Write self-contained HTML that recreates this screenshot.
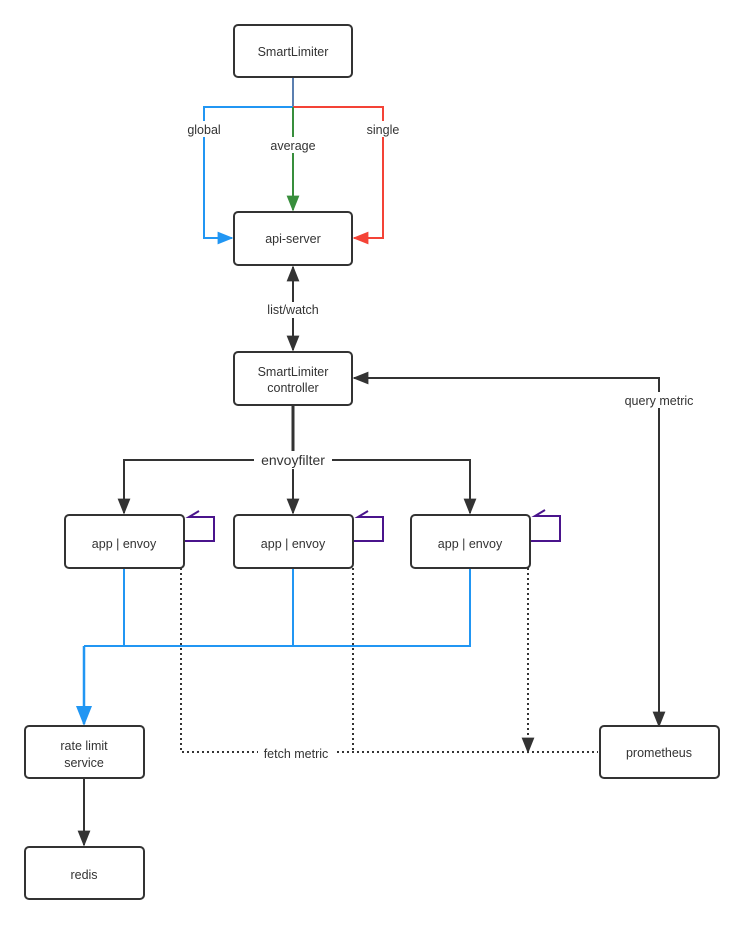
<!DOCTYPE html>
<html><head><style>body{margin:0;background:#fff}text{font-family:"Liberation Sans",sans-serif;font-size:12.5px;fill:#333;text-anchor:middle}</style></head>
<body>
<svg width="744" height="924" viewBox="0 0 744 924" xmlns="http://www.w3.org/2000/svg">
<defs>
<marker id="ak" viewBox="0 0 10 10" refX="9" refY="5" markerWidth="8" markerHeight="8" orient="auto-start-reverse"><path d="M0,1 L10,5 L0,9 z" fill="#333"/></marker>
<marker id="ab" viewBox="0 0 10 10" refX="9" refY="5" markerWidth="8" markerHeight="8" orient="auto"><path d="M0,1 L10,5 L0,9 z" fill="#2196f3"/></marker>
<marker id="ar" viewBox="0 0 10 10" refX="9" refY="5" markerWidth="8" markerHeight="8" orient="auto"><path d="M0,1 L10,5 L0,9 z" fill="#f44336"/></marker>
<marker id="ag" viewBox="0 0 10 10" refX="9" refY="5" markerWidth="8" markerHeight="8" orient="auto"><path d="M0,1 L10,5 L0,9 z" fill="#388e3c"/></marker>
</defs>
<g fill="none" stroke-width="2">
<path d="M293,77 V107" stroke="#5b7fb0"/>
<path d="M293,107 H204 V238 H232" stroke="#2196f3" marker-end="url(#ab)"/>
<path d="M293,107 H383 V238 H354" stroke="#f44336" marker-end="url(#ar)"/>
<path d="M293,107 V210" stroke="#388e3c" marker-end="url(#ag)"/>
<path d="M293,267 V350" stroke="#333" marker-start="url(#ak)" marker-end="url(#ak)"/>
<path d="M293,405 V460" stroke="#333" stroke-width="3"/>
<path d="M124,513 V460 H470 V513" stroke="#333" marker-start="url(#ak)" marker-end="url(#ak)"/>
<path d="M293,460 V513" stroke="#333" marker-end="url(#ak)"/>
<path d="M659,726 V378 H354" stroke="#333" marker-start="url(#ak)" marker-end="url(#ak)"/>
<path d="M84,778 V845" stroke="#333" marker-end="url(#ak)"/>
<path d="M124,568 V646 M293,568 V646 M470,568 V646 H84" stroke="#2196f3"/>
<path d="M84,646 V724" stroke="#2196f3" stroke-width="2.5" marker-end="url(#ab)"/>
<path d="M181,568 V752 H598 M353,568 V752 M528,568 V752" stroke="#333" stroke-dasharray="2,3" marker-end="url(#ak)"/>
<path d="M184,541 H214 V517 H189 L199,511" stroke="#4a148c"/>
<path d="M353,541 H383 V517 H358 L368,511" stroke="#4a148c"/>
<path d="M530,541 H560 V516 H535 L545,510" stroke="#4a148c"/>
</g>
<g fill="#fff" stroke="#333" stroke-width="2">
<rect x="234" y="25" width="118" height="52" rx="4"/>
<rect x="234" y="212" width="118" height="53" rx="4"/>
<rect x="234" y="352" width="118" height="53" rx="4"/>
<rect x="65" y="515" width="119" height="53" rx="4"/>
<rect x="234" y="515" width="119" height="53" rx="4"/>
<rect x="411" y="515" width="119" height="53" rx="4"/>
<rect x="25" y="726" width="119" height="52" rx="4"/>
<rect x="25" y="847" width="119" height="52" rx="4"/>
<rect x="600" y="726" width="119" height="52" rx="4"/>
</g>
<g fill="#fff">
<rect x="183" y="121" width="42" height="16"/><rect x="362" y="121" width="42" height="16"/>
<rect x="266" y="137" width="54" height="16"/><rect x="260" y="302" width="66" height="16"/>
<rect x="254" y="451" width="78" height="18"/><rect x="617" y="392" width="84" height="16"/>
<rect x="258" y="745" width="76" height="16"/>
</g>
<text x="293" y="56">SmartLimiter</text>
<text x="204" y="134">global</text><text x="383" y="134">single</text>
<text x="293" y="150">average</text>
<text x="293" y="243">api-server</text>
<text x="293" y="314">list/watch</text>
<text x="293" y="376">SmartLimiter</text><text x="293" y="392">controller</text>
<text x="293" y="465" style="font-size:14px">envoyfilter</text>
<text x="124" y="548">app |  envoy</text><text x="293" y="548">app |  envoy</text><text x="470" y="548">app |  envoy</text>
<text x="659" y="405">query metric</text>
<text x="296" y="758">fetch metric</text>
<text x="84" y="750">rate limit</text><text x="84" y="767">service</text>
<text x="84" y="879">redis</text>
<text x="659" y="757">prometheus</text>
</svg>
</body></html>
